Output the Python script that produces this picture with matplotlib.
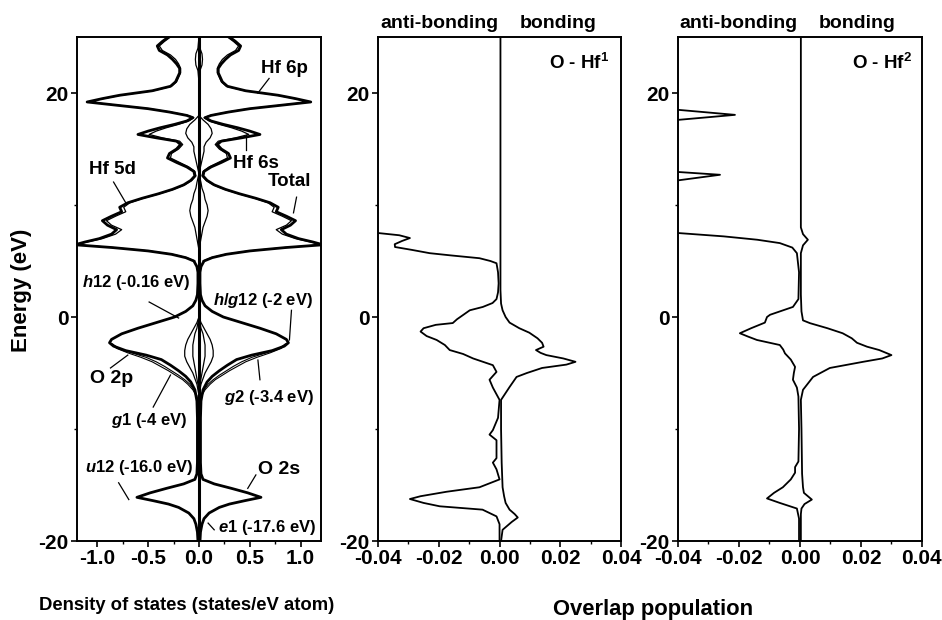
import matplotlib
matplotlib.use("Agg")
import matplotlib.pyplot as plt
from matplotlib.ticker import MultipleLocator

plt.rcParams["font.family"] = ["Liberation Sans", "DejaVu Sans"]
plt.rcParams["font.weight"] = "bold"
plt.rcParams["axes.unicode_minus"] = False
plt.rcParams["mathtext.fontset"] = "custom"
plt.rcParams["mathtext.rm"] = "Liberation Sans:bold"
plt.rcParams["mathtext.it"] = "Liberation Sans:italic:bold"
plt.rcParams["mathtext.bf"] = "Liberation Sans:bold"

# ---- DOS panel (mirrored about 0) ----
E_TOT = [25.0, 24.6, 24.2, 23.8, 23.4, 23.0, 22.6, 22.2, 21.8, 21.4, 21.0, 20.6,
         20.2, 19.8, 19.5, 19.2, 18.9, 18.6, 18.3, 18.0, 17.8, 17.5, 17.2, 16.9,
         16.6, 16.3, 16.0, 15.7, 15.4, 15.0, 14.6, 14.2, 13.8, 13.4, 13.0, 12.6,
         12.2, 11.8, 11.4, 11.0, 10.6, 10.2, 9.8, 9.4, 9.0, 8.6, 8.2, 7.8, 7.4,
         7.0, 6.7, 6.45, 6.2, 5.9, 5.6, 5.3, 5.0, 4.5, 4.0, 3.0, 2.0, 1.5, 1.0,
         0.5, 0.0, -0.5, -1.0, -1.5, -2.0, -2.3, -2.6, -3.0, -3.4, -3.8, -4.3,
         -4.8, -5.3, -5.8, -6.5, -7.5, -9.0, -11.0, -13.0, -14.0, -14.5, -14.9,
         -15.3, -15.7, -16.1, -16.4, -16.7, -17.0, -17.5, -18.0, -18.5, -19.2, -20.0]
DOS_TOT = [0.30, 0.36, 0.41, 0.39, 0.31, 0.26, 0.22, 0.19, 0.19, 0.21, 0.23, 0.28,
           0.46, 0.78, 0.95, 1.10, 0.80, 0.50, 0.29, 0.12, 0.06, 0.12, 0.24, 0.38,
           0.50, 0.60, 0.42, 0.22, 0.18, 0.22, 0.29, 0.31, 0.22, 0.12, 0.05, 0.04,
           0.08, 0.15, 0.26, 0.40, 0.56, 0.70, 0.78, 0.76, 0.86, 0.95, 0.90, 0.81, 0.86,
           0.98, 1.12, 1.22, 0.85, 0.50, 0.27, 0.13, 0.05, 0.02, 0.01, 0.01, 0.015, 0.03, 0.06,
           0.13, 0.24, 0.42, 0.60, 0.76, 0.86, 0.88, 0.84, 0.72, 0.52, 0.37, 0.28,
           0.20, 0.13, 0.08, 0.04, 0.02, 0.015, 0.015, 0.015, 0.02, 0.04, 0.15,
           0.32, 0.48, 0.61, 0.45, 0.30, 0.20, 0.10, 0.05, 0.03, 0.015, 0.01]

E_HF = [25.0, 24.6, 24.2, 23.8, 23.4, 23.0, 22.6, 22.2, 21.8, 21.4, 21.0, 20.6,
        20.2, 19.8, 19.5, 19.2, 18.9, 18.6, 18.3, 18.0, 17.8, 17.5, 17.2, 16.9,
        16.6, 16.3, 16.0, 15.7, 15.4, 15.0, 14.6, 14.2, 13.8, 13.4, 13.0, 12.6,
        12.2, 11.8, 11.4, 11.0, 10.6, 10.2, 9.8, 9.4, 9.0, 8.6, 8.2, 7.8, 7.4,
        7.0, 6.7, 6.45, 6.2, 5.9, 5.6, 5.3, 5.0]
DOS_HF = [0.28, 0.34, 0.39, 0.36, 0.28, 0.23, 0.20, 0.18, 0.18, 0.20, 0.22, 0.27,
          0.45, 0.77, 0.94, 1.09, 0.79, 0.49, 0.28, 0.11, 0.05, 0.10, 0.20, 0.32,
          0.42, 0.49, 0.36, 0.19, 0.16, 0.20, 0.27, 0.28, 0.19, 0.10, 0.04, 0.03,
          0.07, 0.14, 0.25, 0.39, 0.55, 0.68, 0.74, 0.72, 0.82, 0.91, 0.86, 0.76, 0.82,
          0.95, 1.10, 1.20, 0.84, 0.49, 0.26, 0.12, 0.04]

E_6S = [18.0, 17.6, 17.2, 16.8, 16.4, 16.0, 15.6, 15.2, 14.8, 14.4, 14.0, 13.6, 13.2,
        12.8, 12.4, 12.0, 11.5, 11.0, 10.5, 10.0, 9.5, 9.0, 8.5, 8.0, 7.5, 7.0, 6.5, 6.0]
DOS_6S = [0.0, 0.04, 0.09, 0.12, 0.13, 0.11, 0.07, 0.05, 0.05, 0.04, 0.03, 0.02, 0.01,
          0.0, 0.01, 0.02, 0.03, 0.05, 0.06, 0.08, 0.09, 0.08, 0.06, 0.04, 0.03, 0.02, 0.01, 0.0]

E_6P = [25.0, 24.0, 23.5, 23.0, 22.5, 22.0, 21.0]
DOS_6P = [0.0, 0.01, 0.03, 0.035, 0.03, 0.01, 0.0]

E_VB = [0.0, -0.5, -1.0, -1.5, -2.0, -2.5, -3.0, -3.5, -4.0, -4.5, -5.0, -5.5, -6.0, -6.5, -7.0]
DOS_VB1 = [0.0, 0.02, 0.05, 0.08, 0.11, 0.13, 0.14, 0.14, 0.12, 0.09, 0.06, 0.04, 0.02, 0.01, 0.0]
DOS_VB2 = [0.0, 0.01, 0.02, 0.04, 0.05, 0.06, 0.06, 0.06, 0.05, 0.04, 0.03, 0.02, 0.01, 0.0, 0.0]

E_G = [-2.4, -2.8, -3.2, -3.6, -4.0, -4.4, -4.8, -5.2, -5.6, -6.0, -6.5, -7.0, -7.5]
DOS_G1 = [0.85, 0.79, 0.66, 0.52, 0.42, 0.34, 0.27, 0.20, 0.14, 0.09, 0.05, 0.02, 0.01]
DOS_G2 = [0.86, 0.81, 0.70, 0.57, 0.46, 0.38, 0.30, 0.23, 0.16, 0.11, 0.06, 0.03, 0.01]

# ---- COOP O-Hf1 ----
A1_E = [25.0, 7.6, 7.5, 7.3, 7.05, 6.8, 6.5, 6.25, 6.0, 5.7, 5.5, 5.25, 5.0, 4.8, 4.0,
        3.0, 2.2, 1.6, 1.25, 0.9, 0.6, 0.18, -0.2, -0.54, -0.7, -1.0, -1.3, -1.7,
        -2.05, -2.5, -2.95, -3.3, -3.7, -4.3, -4.9, -5.6, -6.3, -7.4, -9.0, -10.1,
        -10.5, -11.0, -12.6, -13.0, -13.6, -14.5, -15.2, -15.6, -16.0, -16.25, -16.6,
        -16.9, -17.2, -17.8, -18.5, -20.0]
A1_V = [-0.05, -0.05, -0.04, -0.033, -0.0295, -0.032, -0.0345, -0.0344, -0.029, -0.023,
        -0.016, -0.0066, -0.003, -0.001, -0.0005, -0.0003, -0.0005, -0.001, -0.0023,
        -0.0055, -0.0098, -0.012, -0.014, -0.0154, -0.021, -0.025, -0.026, -0.024,
        -0.0207, -0.018, -0.0164, -0.012, -0.0087, -0.0022, -0.001, -0.0033, -0.0022,
        0.0, -0.0005, -0.0022, -0.0033, -0.001, -0.001, -0.0022, -0.001, 0.0, -0.0066,
        -0.0174, -0.026, -0.0295, -0.025, -0.0197, -0.0056, -0.001, 0.0, 0.0]
B1_E = [25.0, 2.4, 1.2, 0.6, 0.0, -0.5, -1.0, -1.4, -1.9, -2.3, -2.65, -2.95, -3.2,
        -3.4, -3.7, -4.0, -4.25, -4.55, -5.0, -5.35, -6.25, -7.4, -10.0, -13.0, -15.2,
        -16.0, -16.6, -17.2, -17.6, -17.9, -18.3, -19.0, -20.0]
B1_V = [0.0003, 0.0003, 0.0005, 0.001, 0.002, 0.0033, 0.0065, 0.0098, 0.0125, 0.014,
        0.0145, 0.012, 0.0135, 0.0154, 0.021, 0.025, 0.022, 0.014, 0.009, 0.0056, 0.0033,
        0.0005, 0.0005, 0.0007, 0.001, 0.0015, 0.002, 0.0033, 0.005, 0.006, 0.004, 0.001, 0.0005]

# ---- COOP O-Hf2 ----
A2_E = [25.0, 18.6, 18.5, 18.05, 17.6, 17.5, 13.05, 12.95, 12.7, 12.2, 12.1, 7.6, 7.5,
        7.2, 6.9, 6.6, 6.2, 5.7, 4.0, 1.6, 0.9, 0.2, 0.0, -0.5, -1.0, -1.45, -1.75,
        -2.05, -2.5, -2.9, -3.25, -3.8, -4.45, -5.0, -5.6, -6.3, -7.1, -10.0, -12.9,
        -13.4, -13.9, -14.5, -15.2, -15.7, -16.2, -16.6, -17.1, -18.0, -20.0]
A2_V = [-0.05, -0.05, -0.04, -0.0213, -0.04, -0.05, -0.05, -0.04, -0.0262, -0.04, -0.05,
        -0.05, -0.04, -0.025, -0.014, -0.0066, -0.0025, -0.001, -0.0003, -0.0005, -0.0023,
        -0.0098, -0.0108, -0.0115, -0.016, -0.0197, -0.017, -0.0141, -0.0066, -0.0055,
        -0.0049, -0.003, -0.0016, -0.002, -0.0023, -0.001, -0.0005, -0.0003, -0.0005,
        -0.0016, -0.0016, -0.003, -0.0056, -0.0085, -0.0108, -0.0066, -0.001, -0.0003, -0.0003]
B2_E = [25.0, 8.0, 7.4, 6.9, 6.4, 5.7, 2.0, 0.5, -0.3, -0.55, -1.0, -1.45, -1.9, -2.3,
        -2.65, -2.95, -3.4, -3.7, -4.0, -4.55, -5.35, -6.5, -7.4, -10.0, -14.0, -15.2,
        -15.7, -16.3, -16.7, -17.1, -17.6, -20.0]
B2_V = [0.0003, 0.0003, 0.001, 0.0026, 0.001, 0.0003, 0.0003, 0.0005, 0.001, 0.0033,
        0.009, 0.014, 0.017, 0.0187, 0.022, 0.026, 0.030, 0.027, 0.0207, 0.0098, 0.0043,
        0.001, 0.0003, 0.0005, 0.0007, 0.001, 0.0013, 0.0039, 0.0015, 0.0005, 0.0003, 0.0003]

fig = plt.figure(figsize=(9.42, 6.2), dpi=100)
bot, hgt = 0.1274, 0.8129
ax1 = fig.add_axes([0.0817, bot, 0.259, hgt])
ax2 = fig.add_axes([0.4013, bot, 0.258, hgt])
ax3 = fig.add_axes([0.7197, bot, 0.259, hgt])

def mirror(ax, e, v, lw):
    ax.plot(v, e, color="black", lw=lw, solid_joinstyle="round")
    ax.plot([-x for x in v], e, color="black", lw=lw, solid_joinstyle="round")

mirror(ax1, E_HF, DOS_HF, 0.9)
mirror(ax1, E_6S, DOS_6S, 0.9)
mirror(ax1, E_6P, DOS_6P, 0.9)
mirror(ax1, E_VB, DOS_VB1, 0.9)
mirror(ax1, E_VB, DOS_VB2, 0.9)
mirror(ax1, E_G, DOS_G1, 0.8)
mirror(ax1, E_G, DOS_G2, 0.8)
mirror(ax1, E_TOT, DOS_TOT, 2.0)
ax1.axvline(0, color="black", lw=2.2)
ax1.set_xlim(-1.2, 1.2)
ax1.xaxis.set_major_locator(MultipleLocator(0.5))
ax1.xaxis.set_minor_locator(MultipleLocator(0.25))
ax1.xaxis.set_major_formatter(plt.FuncFormatter(lambda v, p: "%.1f" % v))

for ax, (ae, av, be, bv) in ((ax2, (A1_E, A1_V, B1_E, B1_V)), (ax3, (A2_E, A2_V, B2_E, B2_V))):
    ax.plot(av, ae, color="black", lw=1.3)
    ax.plot(bv, be, color="black", lw=1.3)
    ax.set_xlim(-0.04, 0.04)
    ax.xaxis.set_major_locator(MultipleLocator(0.02))
    ax.xaxis.set_minor_locator(MultipleLocator(0.01))
    ax.xaxis.set_major_formatter(plt.FuncFormatter(lambda v, p: "%.2f" % v))

for ax in (ax1, ax2, ax3):
    ax.set_ylim(-20, 25)
    ax.yaxis.set_major_locator(MultipleLocator(20))
    ax.yaxis.set_minor_locator(MultipleLocator(10))
    ax.tick_params(which="major", direction="out", length=4, width=1.2, labelsize=15, pad=2)
    ax.tick_params(which="minor", direction="out", length=2.5, width=1.0)
    for s in ax.spines.values():
        s.set_linewidth(1.4)
    for t in ax.get_xticklabels() + ax.get_yticklabels():
        t.set_fontweight("bold")

# labels inside DOS panel: (text, text x, text E, line from, line to, size)
ANN = [
    ("Hf 6p", 0.84, 22.2, (0.69, 21.3), (0.58, 20.0), 13.5),
    ("Hf 6s", 0.56, 13.75, (0.46, 14.9), (0.46, 16.25), 13.5),
    ("Hf 5d", -0.85, 13.2, (-0.84, 12.05), (-0.72, 10.2), 13.5),
    ("Total", 0.89, 12.1, (0.96, 10.7), (0.93, 9.3), 13.5),
    ("$h$12 (-0.16 eV)", -0.62, 3.05, (-0.49, 1.34), (-0.2, -0.09), 12),
    ("$h$/$g$12 (-2 eV)", 0.63, 1.5, (0.91, 0.6), (0.89, -2.05), 12),
    ("O 2p", -0.86, -5.45, (-0.87, -4.55), (-0.7, -3.4), 14),
    ("$g$1 (-4 eV)", -0.49, -9.2, (-0.45, -8.04), (-0.28, -5.18), 12),
    ("$g$2 (-3.4 eV)", 0.69, -7.23, (0.6, -5.6), (0.58, -3.84), 12),
    ("$u$12 (-16.0 eV)", -0.59, -13.4, (-0.79, -14.8), (-0.69, -16.3), 12),
    ("O 2s", 0.79, -13.6, (0.56, -14.1), (0.48, -15.3), 14),
    ("$e$1 (-17.6 eV)", 0.67, -18.8, (0.15, -19.0), (0.09, -18.4), 12),
]
for txt, tx, ty, p0, p1, fs in ANN:
    ax1.text(tx, ty, txt, ha="center", va="center", fontsize=fs, fontweight="bold")
    ax1.plot([p0[0], p1[0]], [p0[1], p1[1]], color="black", lw=0.9)

ax2.text(0.0262, 22.7, "O - Hf$^{1}$", ha="center", va="center", fontsize=13.5, fontweight="bold")
ax3.text(0.0269, 22.7, "O - Hf$^{2}$", ha="center", va="center", fontsize=13.5, fontweight="bold")

W, H = 942.0, 620.0
for cx in (439, 738):
    fig.text(cx / W, 1 - 24 / H, "anti-bonding", ha="center", va="center", fontsize=14, fontweight="bold")
for cx in (558, 857):
    fig.text(cx / W, 1 - 24 / H, "bonding", ha="center", va="center", fontsize=14, fontweight="bold")
fig.text(22 / W, 1 - 290 / H, "Energy (eV)", rotation=90, ha="center", va="center",
         fontsize=16, fontweight="bold")
fig.text(187 / W, 1 - 605 / H, "Density of states (states/eV atom)", ha="center", va="center",
         fontsize=13.3, fontweight="bold")
fig.text(653 / W, 1 - 610 / H, "Overlap population", ha="center", va="center",
         fontsize=15.8, fontweight="bold")

fig.savefig("out.png", dpi=100, facecolor="white")
